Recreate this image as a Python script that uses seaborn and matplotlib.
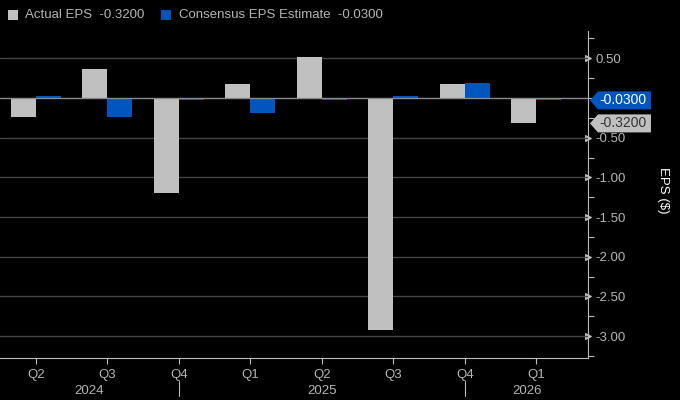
import matplotlib
matplotlib.use("Agg")
import matplotlib.pyplot as plt
import matplotlib.transforms as mtransforms
from matplotlib.patches import Polygon
from matplotlib.ticker import MultipleLocator, FixedLocator
import seaborn as sns
import pandas as pd

quarters = ["Q2", "Q3", "Q4", "Q1", "Q2", "Q3", "Q4", "Q1"]
periods = ["Q2 2024", "Q3 2024", "Q4 2024", "Q1 2025", "Q2 2025", "Q3 2025", "Q4 2025", "Q1 2026"]
actual_eps = [-0.24, 0.36, -1.20, 0.18, 0.52, -2.92, 0.18, -0.32]
estimate_eps = [0.03, -0.24, -0.03, -0.19, -0.02, 0.03, 0.19, -0.03]
series_names = ["Actual EPS", "Consensus EPS Estimate"]
year_labels = ["2024", "2025", "2026"]
year_pos = [0.75, 4.0, 6.87]
year_seps = [2, 6]
last_actual = -0.32
last_estimate = -0.03

GREY = "#c0c0c0"
BLUE = "#0055bf"
TXT = "#b4b4b4"

sns.set_theme(style="dark")
FONT = ["Liberation Sans", "DejaVu Sans"]
plt.rcParams["font.family"] = FONT

df = pd.DataFrame({
    "period": periods * 2,
    "series": [series_names[0]] * len(periods) + [series_names[1]] * len(periods),
    "eps": actual_eps + estimate_eps,
})

W, H = 680, 400
fig = plt.figure(figsize=(6.8, 4.0), dpi=100, facecolor="black")
ax = fig.add_axes([0.0, 0.105, 0.8654, 0.8175])
ax.set_facecolor("black")

sns.barplot(data=df, x="period", y="eps", hue="series", order=periods,
            hue_order=series_names, palette=[GREY, BLUE], width=0.7,
            saturation=1, legend=False, ax=ax, zorder=3, linewidth=0,
            edgecolor="none")

ax.set_xlim(-0.5, 7.73)
ax.set_ylim(-3.275, 0.844)

# grid
for v in [0.5, -0.5, -1.0, -1.5, -2.0, -2.5, -3.0]:
    ax.axhline(v, color="#444444", lw=1, zorder=1)
ax.axhline(0, color="#8a8a8a", lw=1, zorder=4)
ax.grid(False)

# spines
for s in ["left", "top"]:
    ax.spines[s].set_visible(False)
ax.spines["right"].set_color("#bbbbbb")
ax.spines["bottom"].set_color("#bbbbbb")
ax.spines["right"].set_linewidth(0.8)
ax.spines["bottom"].set_linewidth(0.8)

# y axis on right
ax.yaxis.tick_right()
ax.yaxis.set_major_locator(FixedLocator([0.5, -0.5, -1.0, -1.5, -2.0, -2.5, -3.0]))
ax.yaxis.set_minor_locator(MultipleLocator(0.25))
ax.yaxis.set_major_formatter(matplotlib.ticker.FuncFormatter(lambda v, p: f"{v:.2f}"))
ax.tick_params(axis="y", which="major", right=True, left=False, length=4, width=0.8,
               color="#bbbbbb", labelcolor=TXT, labelsize=9.5, pad=1)
ax.tick_params(axis="y", which="minor", right=True, left=False, length=4, width=0.8,
               color="#bbbbbb")
for t in ax.yaxis.get_major_ticks():
    t.tick2line.set_marker(">")
    t.tick2line.set_markersize(4)
    t.tick2line.set_markerfacecolor("#bbbbbb")
    t.tick2line.set_markeredgecolor("#bbbbbb")
ax.set_ylabel("")
fig.text(663 / W, 1 - 190 / H, "EPS ($)", rotation=270, color="white",
         fontsize=9.5, ha="center", va="center")

# x axis
ax.set_xticks(range(len(periods)))
ax.set_xticklabels(quarters)
ax.set_xlabel("")
ax.tick_params(axis="x", bottom=True, length=4, width=0.8, color="#bbbbbb",
               labelcolor=TXT, labelsize=9.5, pad=4)

trans = mtransforms.blended_transform_factory(ax.transData, ax.transAxes)
for lab, xp in zip(year_labels, year_pos):
    ax.text(xp, -0.083, lab, transform=trans, ha="center", va="top",
            color=TXT, fontsize=9.5, clip_on=False)
for xs in year_seps:
    ax.plot([xs, xs], [-0.07, -0.115], transform=trans, color="#bbbbbb",
            lw=0.8, clip_on=False)


# value tags on the right axis (pointed boxes)
def value_tag(val, fc, tc):
    _, ypix = ax.transData.transform((0, val))
    x0 = ax.get_position().x1 * W + 1.5
    tip, body, right, half = x0, x0 + 8, x0 + 61, 9
    pts = [(tip, ypix), (body, ypix + half), (right, ypix + half),
           (right, ypix - half), (body, ypix - half)]
    pts = [(px / W, py / H) for px, py in pts]
    fig.patches.append(Polygon(pts, closed=True, transform=fig.transFigure,
                               fc=fc, ec="none", zorder=10))
    fig.text((x0 + 9) / W, ypix / H, f"{val:.4f}", color=tc, fontsize=10,
             ha="left", va="center", zorder=11)


value_tag(last_estimate, BLUE, "white")
value_tag(last_actual, GREY, "#333333")

# legend
fig.patches.append(plt.Rectangle((8 / W, 1 - 20 / H), 10 / W, 10 / H,
                                 transform=fig.transFigure, fc=GREY, ec="none"))
fig.text(25 / W, 1 - 15 / H, f"{series_names[0]}  {last_actual:.4f}",
         color=TXT, fontsize=9.5, va="center", ha="left")
fig.patches.append(plt.Rectangle((161 / W, 1 - 20 / H), 10 / W, 10 / H,
                                 transform=fig.transFigure, fc=BLUE, ec="none"))
fig.text(179 / W, 1 - 15 / H, f"{series_names[1]}  {last_estimate:.4f}",
         color=TXT, fontsize=9.5, va="center", ha="left")

fig.savefig("out.png", dpi=100, facecolor="black")
